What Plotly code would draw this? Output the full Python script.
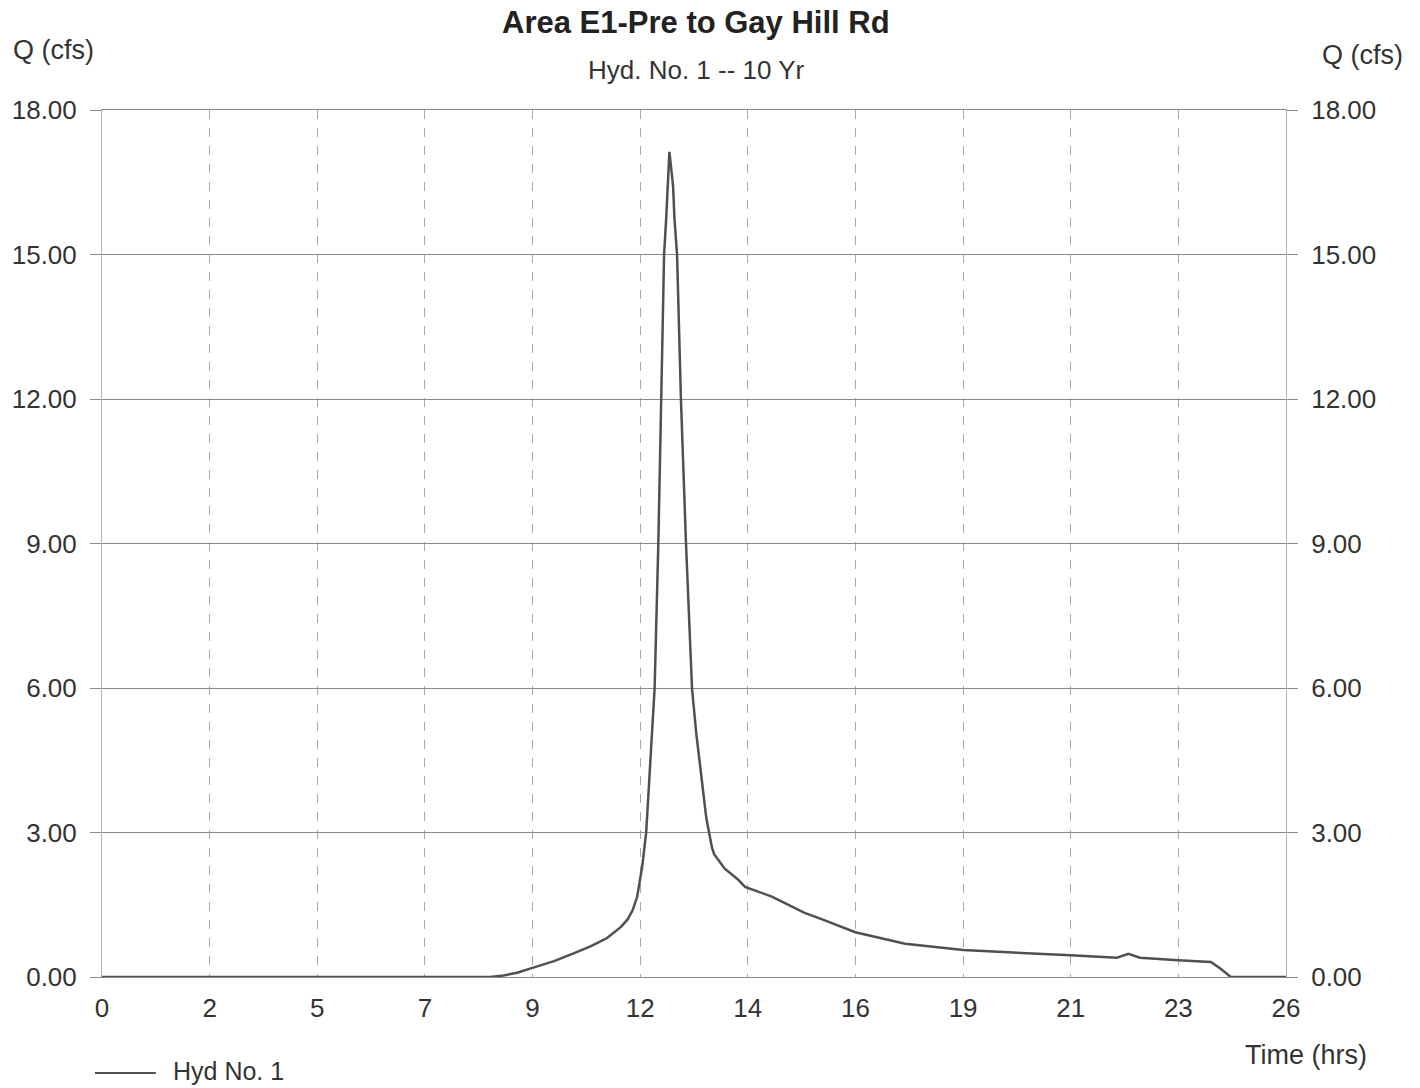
import plotly.graph_objects as go

# Hydrograph (time in hrs, Q in cfs)
time_hrs = [0, 8.41, 8.7, 9.0, 9.33, 9.8, 10.25, 10.6, 10.95, 11.25, 11.39, 11.5,
            11.60, 11.71, 11.797, 11.84, 11.90, 11.95, 11.98, 12.06, 12.12, 12.185,
            12.23, 12.27, 12.30, 12.38, 12.41, 12.466, 12.55, 12.66, 12.79, 12.88,
            13.04, 13.10, 13.16, 13.22, 13.27, 13.35, 13.5, 13.78, 13.94, 14.52,
            15.23, 15.60, 16.33, 17.41, 18.67, 21.0, 22.0, 22.25, 22.5, 23.33, 24.04,
            24.25, 24.47, 25.667]
q_cfs = [0, 0, 0.03, 0.09, 0.19, 0.33, 0.5, 0.64, 0.81, 1.04, 1.19, 1.38,
         1.66, 2.29, 3.0, 3.69, 4.8, 5.5, 6.0, 9.0, 12.0, 15.0,
         15.74, 16.42, 17.13, 16.42, 15.74, 15.0, 12.0, 9.0, 6.0, 5.08,
         3.69, 3.3, 3.0, 2.7, 2.55, 2.44, 2.25, 2.03, 1.87, 1.67,
         1.33, 1.2, 0.93, 0.69, 0.56, 0.45, 0.40, 0.48, 0.40, 0.35, 0.31,
         0.17, 0.0, 0.0]

x_tick_vals = [7 * k / 3 for k in range(12)]
x_tick_text = ["0", "2", "5", "7", "9", "12", "14", "16", "19", "21", "23", "26"]
y_tick_vals = [0, 3, 6, 9, 12, 15, 18]
y_tick_text = ["%.2f" % v for v in y_tick_vals]

FONT = "Liberation Sans, Arial, sans-serif"
TXT = "#333333"

fig = go.Figure()
fig.add_trace(go.Scatter(x=time_hrs, y=q_cfs, mode="lines",
                         line=dict(color="#505050", width=2.5),
                         name="Hyd No. 1", showlegend=False))
fig.add_trace(go.Scatter(x=time_hrs, y=q_cfs, mode="lines", yaxis="y2",
                         line=dict(color="rgba(0,0,0,0)", width=0),
                         hoverinfo="skip", showlegend=False))

W0, W1, T0, T1 = 99, 1286, 110, 977
pw, ph = W1 - W0, T1 - T0
def px(x): return (x - W0) / pw
def py(y): return (T1 - y) / ph

fig.update_layout(
    width=1420, height=1088,
    margin=dict(l=W0, r=1420 - W1, t=T0, b=1088 - T1),
    paper_bgcolor="white", plot_bgcolor="white",
    font=dict(family=FONT, size=26, color=TXT),
    showlegend=False,
    xaxis=dict(range=[0, 77 / 3], tickvals=x_tick_vals, ticktext=x_tick_text,
               showgrid=True, gridcolor="#a8a8a8", griddash="dash", gridwidth=1,
               zeroline=False, showline=True, mirror=True, linecolor="#8a8a8a",
               linewidth=1, ticks="", ticklabelstandoff=8,
               tickfont=dict(size=26, color=TXT, family=FONT)),
    yaxis=dict(range=[0, 18], tickvals=y_tick_vals, ticktext=y_tick_text,
               showgrid=True, gridcolor="#8a8a8a", gridwidth=1,
               zeroline=True, zerolinecolor="#666666", zerolinewidth=1.5,
               showline=True, mirror=True, linecolor="#b4b4b4", linewidth=1,
               ticks="outside", ticklen=11, tickcolor="#8a8a8a",
               ticklabelstandoff=8,
               tickfont=dict(size=26, color=TXT, family=FONT)),
    yaxis2=dict(range=[0, 18], tickvals=y_tick_vals, ticktext=y_tick_text,
                overlaying="y", side="right", showgrid=False, zeroline=False,
                showline=False, ticks="outside", ticklen=11, tickcolor="#8a8a8a",
                ticklabelstandoff=8,
                tickfont=dict(size=26, color=TXT, family=FONT)),
)

ann = [
    dict(text="<b>Area E1-Pre to Gay Hill Rd</b>", x=px(695), y=py(22),
         xanchor="center", yanchor="middle", font=dict(size=31, color="#222222")),
    dict(text="Hyd. No. 1 -- 10 Yr", x=px(695), y=py(70),
         xanchor="center", yanchor="middle", font=dict(size=26, color=TXT)),
    dict(text="Q (cfs)", x=px(8), y=py(50), xanchor="left", yanchor="middle",
         font=dict(size=27, color=TXT)),
    dict(text="Q (cfs)", x=px(1320), y=py(55), xanchor="left", yanchor="middle",
         font=dict(size=27, color=TXT)),
    dict(text="Time (hrs)", x=px(1243), y=py(1055), xanchor="left", yanchor="middle",
         font=dict(size=27, color=TXT)),
    dict(text="Hyd No. 1", x=px(168), y=py(1071), xanchor="left", yanchor="middle",
         font=dict(size=25, color=TXT)),
]
for a in ann:
    a.update(xref="paper", yref="paper", showarrow=False)
fig.update_layout(annotations=ann)

fig.add_shape(type="line", xref="paper", yref="paper",
              x0=px(92), x1=px(153), y0=py(1073), y1=py(1073),
              line=dict(color="#505050", width=2))

fig.write_html("out.html")
